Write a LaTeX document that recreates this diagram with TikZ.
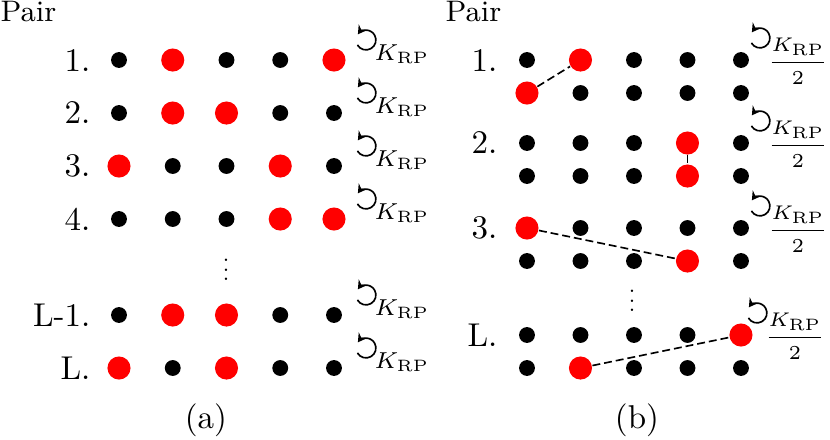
\documentclass[tikz,border=0pt]{standalone}
\usepackage{amsmath}
\usepackage{amssymb}
\usetikzlibrary{arrows.meta}

\tikzset{
  dotb/.style={circle, fill=black, inner sep=0pt, minimum size=4.8pt},
  dotr/.style={circle, fill=red, inner sep=0pt, minimum size=7pt},
  lbl/.style={anchor=east, inner sep=0pt},
  pairline/.style={dash pattern=on 2.4pt off 1.2pt, line width=0.5pt},
  rot/.style={line width=0.5pt, -{Stealth[length=2.6pt,width=3pt]}},
  vdot/.style={inner sep=0pt},
}

\begin{document}
\begin{tikzpicture}[x=0.303pt, y=-0.303pt]
  \useasboundingbox (0,0) rectangle (830,439);

  % (a) one pair per row
  \node[anchor=base west, inner sep=0pt, font=\small] (pa) at (0,21) {Pair};
  \foreach \r/\y/\lab/\cols in {1/60/1./{b,r,b,b,r}, 2/113/2./{b,r,r,b,b},
      3/166/3./{r,b,b,r,b}, 4/219/4./{b,b,b,r,r}, 5/315/L-1./{b,r,r,b,b},
      6/368/L./{r,b,r,b,b}} {
    \node[lbl] (la\r) at (91,\y) {\lab};
    \foreach \c [count=\i] in \cols
      \node[dot\c] (a\r-\i) at ({119+53.75*(\i-1)},\y) {};
    \coordinate (ra\r) at (366,\y-20);
    \draw[rot] ([shift={(210:3pt)}]ra\r) arc[start angle=210, end angle=505, radius=3pt];
    \node[anchor=base west, inner sep=0pt, font=\scriptsize] (ka\r) at (374,\y) {$K_{\mathrm{RP}}$};
  }
  \node[vdot] (va) at (226,263) {\scalebox{0.7}{$\vdots$}};
  \node (capa) at (206,420) {(a)};

  % (b) two rows per pair
  \node[anchor=base west, inner sep=0pt, font=\small] (pb) at (445,21) {Pair};
  \foreach \r/\y/\lab/\rx/\fx/\top/\bot in {1/60/1./760/829/{b,r,b,b,b}/{r,b,b,b,b},
      2/143/2./760/829/{b,b,b,r,b}/{b,b,b,r,b}, 3/228/3./760/829/{r,b,b,b,b}/{b,b,b,r,b},
      4/335/L./757/826/{b,b,b,b,r}/{b,r,b,b,b}} {
    \node[lbl] (lb\r) at (498,\y) {\lab};
    \foreach \c [count=\i] in \top
      \node[dot\c] (b\r-t\i) at ({527+53.5*(\i-1)},\y) {};
    \foreach \c [count=\i] in \bot
      \node[dot\c] (b\r-b\i) at ({527+53.5*(\i-1)},\y+33) {};
    \coordinate (rb\r) at (\rx,\y-22);
    \draw[rot] ([shift={(210:3pt)}]rb\r) arc[start angle=210, end angle=505, radius=3pt];
    \node[anchor=east, inner sep=0pt, font=\fontsize{6.3}{8}\selectfont] (kb\r) at (\fx,\y+1) {$\dfrac{K_{\mathrm{RP}}}{2}$};
  }
  \node[vdot] (vb) at (632,294) {\scalebox{0.7}{$\vdots$}};
  \node (capb) at (637,420) {(b)};

  % pairs
  \draw[pairline] (b1-b1) -- (b1-t2);
  \draw[pairline] (b2-t4) -- (b2-b4);
  \draw[pairline] (b3-t1) -- (b3-b4);
  \draw[pairline] (b4-b2) -- (b4-t5);
\end{tikzpicture}
\end{document}
